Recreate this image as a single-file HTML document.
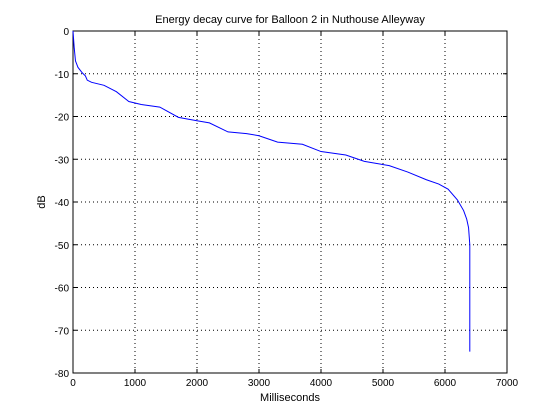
<!DOCTYPE html>
<html><head><meta charset="utf-8"><style>
body{margin:0;background:#fff;}
svg{display:block;font-family:"Liberation Sans",sans-serif;}
</style></head><body>
<svg id="chart" width="560" height="420">
<rect width="560" height="420" fill="#fff"/>
<g id="grid"></g>
<g id="axes"></g>
<polyline id="curve" fill="none" stroke="#0000ff" stroke-width="1"/>
<text x="290" y="23" font-size="11" text-anchor="middle">Energy decay curve for Balloon 2 in Nuthouse Alleyway</text>
<text x="290" y="401" font-size="11" text-anchor="middle">Milliseconds</text>
<text x="0" y="0" font-size="11" text-anchor="middle" transform="translate(45,202) rotate(-90)">dB</text>
</svg>
<script>
const xTicks=[0,1000,2000,3000,4000,5000,6000,7000];
const yTicks=[0,-10,-20,-30,-40,-50,-60,-70,-80];
const timeMs=[0,20,40,80,150,200,230,300,500,700,900,1100,1400,1700,2000,2200,2500,2800,3000,3300,3700,4000,4400,4700,5100,5400,5700,5900,6050,6200,6300,6350,6380,6400,6400];
const decayDb=[0,-4,-7,-8.5,-9.8,-10.5,-11.5,-12,-12.7,-14.2,-16.5,-17.2,-17.8,-20.2,-21,-21.5,-23.6,-24,-24.5,-26,-26.5,-28.2,-29,-30.5,-31.5,-33,-34.8,-35.8,-37,-39.5,-42,-44,-46,-50,-75];
const L=73,R=507,T=31,B=373;
const sx=v=>L+(v-0)/7000*(R-L);
const sy=v=>T+(0-v)/80*(B-T);
const NS="http://www.w3.org/2000/svg";
const grid=document.getElementById('grid'),axes=document.getElementById('axes');
function mk(tag,attrs,parent){const e=document.createElementNS(NS,tag);for(const k in attrs)e.setAttribute(k,attrs[k]);parent.appendChild(e);return e;}
xTicks.forEach(v=>{const x=sx(v);
 if(v>0&&v<7000){const g=mk('line',{x1:x,x2:x,y1:T,y2:B,stroke:'#000','stroke-dasharray':'1,3'},grid);
 
 }
 mk('line',{x1:x,x2:x,y1:B,y2:B-4,stroke:'#000'},axes);
 mk('line',{x1:x,x2:x,y1:T,y2:T+4,stroke:'#000'},axes);
 const t=mk('text',{x:x,y:B+13,'font-size':10,'text-anchor':'middle'},axes);t.textContent=v;
 
 });
yTicks.forEach(v=>{const y=sy(v);
 if(v<0&&v>-80){const g=mk('line',{x1:L,x2:R,y1:y,y2:y,stroke:'#000','stroke-dasharray':'1,3'},grid);
 
 }
 mk('line',{x1:L,x2:L+4,y1:y,y2:y,stroke:'#000'},axes);
 mk('line',{x1:R,x2:R-4,y1:y,y2:y,stroke:'#000'},axes);
 const t=mk('text',{x:L-4,y:y+4,'font-size':10,'text-anchor':'end'},axes);t.textContent=v;
 
 });
const box=mk('rect',{x:L,y:T,width:R-L,height:B-T,fill:'none',stroke:'#000'},axes);


document.getElementById('curve').setAttribute('points',timeMs.map((t,i)=>sx(t)+','+sy(decayDb[i])).join(' '));
</script>
</body></html>
